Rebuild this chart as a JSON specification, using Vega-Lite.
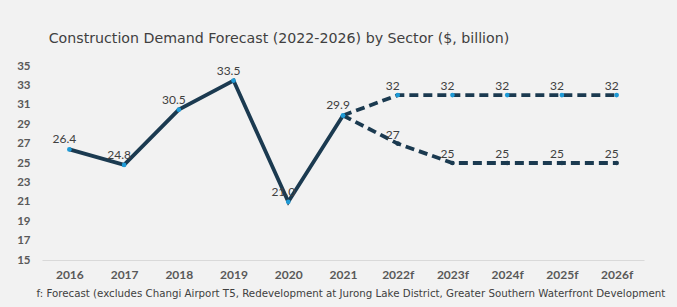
{
  "$schema": "https://vega.github.io/schema/vega-lite/v6.json",
  "width": 677,
  "height": 307,
  "autosize": {"type": "fit", "contains": "padding"},
  "padding": {"left": 16, "right": 33, "top": 31, "bottom": 8},
  "background": "#f2f2f2",
  "config": {
    "view": {"stroke": null},
    "font": "Lato",
    "title": {"font": "DejaVu Sans", "fontSize": 14.2, "fontWeight": "normal", "color": "#404040", "anchor": "start", "dx": 32, "offset": 14}
  },
  "title": "Construction Demand Forecast (2022-2026) by Sector ($, billion)",
  "data": {
    "values": [
      {"year": "2016", "value": 26.4, "series": "actual"},
      {"year": "2017", "value": 24.8, "series": "actual"},
      {"year": "2018", "value": 30.5, "series": "actual"},
      {"year": "2019", "value": 33.5, "series": "actual"},
      {"year": "2020", "value": 21.0, "series": "actual"},
      {"year": "2021", "value": 29.9, "series": "actual"},
      {"year": "2021", "value": 29.9, "series": "high"},
      {"year": "2022f", "value": 32, "series": "high"},
      {"year": "2023f", "value": 32, "series": "high"},
      {"year": "2024f", "value": 32, "series": "high"},
      {"year": "2025f", "value": 32, "series": "high"},
      {"year": "2026f", "value": 32, "series": "high"},
      {"year": "2021", "value": 29.9, "series": "low"},
      {"year": "2022f", "value": 27, "series": "low"},
      {"year": "2023f", "value": 25, "series": "low"},
      {"year": "2024f", "value": 25, "series": "low"},
      {"year": "2025f", "value": 25, "series": "low"},
      {"year": "2026f", "value": 25, "series": "low"}
    ]
  },
  "encoding": {
    "x": {
      "field": "year", "type": "ordinal", "sort": null,
      "axis": {
        "title": "f: Forecast (excludes Changi Airport T5, Redevelopment at Jurong Lake District, Greater Southern Waterfront Development",
        "titleFont": "DejaVu Sans", "titleFontSize": 10.25, "titleFontWeight": "normal", "titleColor": "#404040",
        "titleAnchor": "start", "titleAlign": "left", "titleX": -6, "titlePadding": 8,
        "labelAngle": 0, "labelFontSize": 12, "labelFontWeight": "bold", "labelColor": "#595959", "labelPadding": 9,
        "ticks": false, "domainColor": "#d9d9d9", "domainWidth": 1, "grid": false
      }
    },
    "y": {
      "field": "value", "type": "quantitative",
      "scale": {"domain": [15, 35], "nice": false, "zero": false},
      "axis": {
        "title": null, "values": [15, 17, 19, 21, 23, 25, 27, 29, 31, 33, 35],
        "labelFontSize": 11.5, "labelFontWeight": "bold", "labelColor": "#595959", "labelPadding": 12,
        "ticks": false, "domain": false, "grid": false
      }
    }
  },
  "layer": [
    {
      "transform": [{"filter": "datum.series == 'actual'"}],
      "mark": {"type": "line", "color": "#1b3a50", "strokeWidth": 3.8}
    },
    {
      "transform": [{"filter": "datum.series != 'actual'"}],
      "mark": {"type": "line", "color": "#1b3a50", "strokeWidth": 3.8, "strokeDash": [9, 5]},
      "encoding": {"detail": {"field": "series"}}
    },
    {
      "transform": [{"filter": "datum.series != 'low'"}],
      "mark": {"type": "circle", "color": "#1e9ad6", "size": 22, "opacity": 1}
    },
    {
      "transform": [{"filter": "datum.series == 'low' && datum.year != '2021'"}],
      "mark": {"type": "circle", "color": "#1b3a50", "size": 22, "opacity": 1}
    },
    {
      "transform": [{"filter": "datum.series == 'actual'"}],
      "mark": {"type": "text", "fontSize": 12, "color": "#404040", "dx": -5, "dy": -10},
      "encoding": {"text": {"field": "value", "type": "quantitative", "format": ".1f"}}
    },
    {
      "transform": [{"filter": "datum.series != 'actual' && datum.year != '2021'"}],
      "mark": {"type": "text", "fontSize": 12, "color": "#404040", "dx": -5, "dy": -9},
      "encoding": {"text": {"field": "value", "type": "quantitative", "format": "d"}}
    }
  ]
}
